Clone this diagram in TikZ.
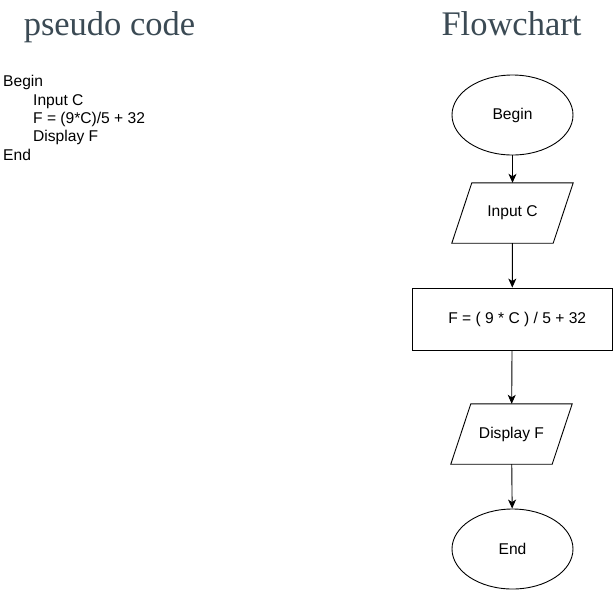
\documentclass[tikz,border=0pt]{standalone}
\usepackage{fontspec}
\setmainfont{Liberation Serif}
\newfontfamily\arialf{Liberation Sans}
\usetikzlibrary{shapes.geometric,arrows.meta}
\definecolor{titlegray}{HTML}{3B4A54}
\tikzset{
  x=1pt, y=-1pt,
  title/.style={font=\fontsize{34.5}{40}\selectfont, text=titlegray, inner sep=0pt, anchor=base},
  code/.style={font=\arialf\fontsize{15.6}{18}\selectfont, inner sep=0pt, anchor=base west},
  base/.style={draw=black, line width=0.9pt, font=\arialf\fontsize{15.6}{18}\selectfont, inner sep=0pt},
  term/.style={base, ellipse, minimum width=121pt, minimum height=80pt},
  iobox/.style={font=\arialf\fontsize{15.6}{18}\selectfont, inner sep=0pt, rectangle, minimum width=101pt, minimum height=60pt},
  ioline/.style={draw=black, line width=0.9pt, line join=miter},
  procbox/.style={base, rectangle, minimum width=200pt, minimum height=62pt},
  flow/.style={draw=black, line width=0.9pt, -{Stealth[length=9pt,width=8pt,inset=2.5pt]}}
}
\begin{document}
\begin{tikzpicture}
\useasboundingbox (0,0) rectangle (613,590);
\node[title] (t1) at (109.5,35) {pseudo code};
\node[title] (t2) at (511.5,35) {Flowchart};
\node[code] (c1) at (3,86.7) {Begin};
\node[code] (c2) at (33,105) {Input C};
\node[code] (c3) at (33,123.3) {F = (9*C)/5 + 32};
\node[code] (c4) at (33,141.7) {Display F};
\node[code] (c5) at (3,160) {End};
\node[term] (begin) at (512.5,115) {Begin};
\node[iobox] (inc) at (512.5,213) {Input C};
\draw[ioline] ([xshift=-10pt]inc.south west) -- ([xshift=10pt]inc.north west)
  -- ([xshift=10pt]inc.north east) -- ([xshift=-10pt]inc.south east) -- cycle;
\node[procbox] (calc) at (512.2,319) {\hspace*{10pt}F = ( 9 * C ) / 5 + 32};
\node[iobox] (disp) at (511.5,434) {Display F};
\draw[ioline] ([xshift=-10pt]disp.south west) -- ([xshift=10pt]disp.north west)
  -- ([xshift=10pt]disp.north east) -- ([xshift=-10pt]disp.south east) -- cycle;
\node[term] (end) at (512.5,549) {End};
\draw[flow] (begin) -- (inc);
\draw[flow] (inc) -- (calc);
\draw[flow] (calc) -- (disp);
\draw[flow] (disp) -- (end);
\end{tikzpicture}
\end{document}
